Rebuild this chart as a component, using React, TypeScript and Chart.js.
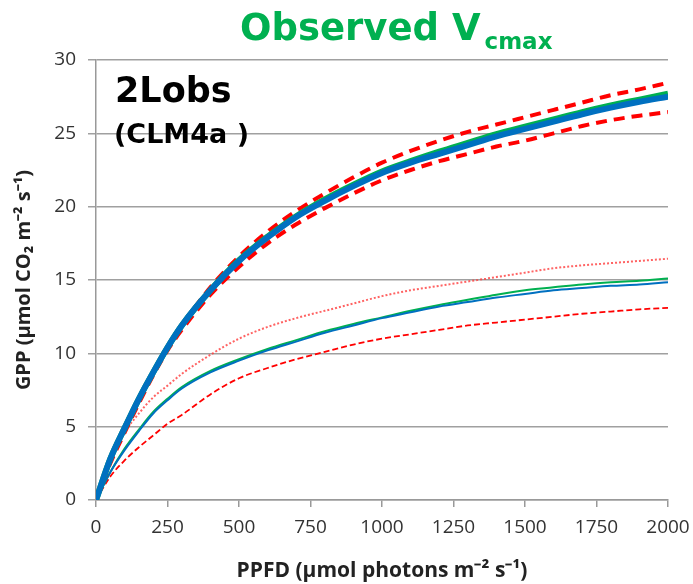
import React, { useEffect, useRef } from "react";
import { Chart, registerables } from "chart.js";

Chart.register(...registerables);

const PPFD = [0, 50, 100, 150, 200, 250, 300, 400, 500, 600, 700, 800, 900, 1000, 1100, 1200, 1300, 1400, 1500, 1600, 1700, 1800, 1900, 2000];

const sunlitBlue = [0, 2.8, 4.9, 6.9, 8.7, 10.4, 11.9, 14.3, 16.3, 17.9, 19.3, 20.4, 21.4, 22.3, 23.0, 23.6, 24.2, 24.8, 25.3, 25.8, 26.3, 26.75, 27.15, 27.5];
const sunlitGreen = [0, 2.8, 4.9, 6.9, 8.7, 10.4, 11.9, 14.3, 16.35, 17.95, 19.35, 20.5, 21.5, 22.4, 23.1, 23.75, 24.35, 24.95, 25.45, 25.95, 26.45, 26.9, 27.3, 27.7];
const sunlitRedHigh = [0, 2.6, 4.8, 6.8, 8.7, 10.4, 11.9, 14.5, 16.6, 18.3, 19.7, 20.9, 22.0, 23.0, 23.8, 24.5, 25.1, 25.6, 26.1, 26.6, 27.1, 27.6, 28.0, 28.45];
const sunlitRedLow = [0, 2.5, 4.6, 6.6, 8.5, 10.2, 11.6, 14.0, 15.9, 17.5, 18.8, 19.9, 20.9, 21.8, 22.5, 23.1, 23.6, 24.1, 24.5, 25.0, 25.5, 25.9, 26.2, 26.45];

const shadeBlue = [0, 1.9, 3.4, 4.7, 5.9, 6.8, 7.6, 8.7, 9.5, 10.2, 10.8, 11.4, 11.9, 12.4, 12.8, 13.2, 13.5, 13.8, 14.05, 14.3, 14.45, 14.6, 14.7, 14.85];
const shadeGreen = [0, 1.9, 3.5, 4.8, 6.0, 6.9, 7.7, 8.8, 9.6, 10.3, 10.9, 11.5, 12.0, 12.45, 12.9, 13.3, 13.65, 14.0, 14.3, 14.5, 14.7, 14.85, 14.95, 15.1];
const shadeRedHigh = [0, 2.6, 4.6, 5.9, 7.0, 7.8, 8.6, 9.9, 11.0, 11.8, 12.4, 12.9, 13.4, 13.9, 14.3, 14.6, 14.9, 15.2, 15.5, 15.8, 16.0, 16.15, 16.3, 16.45];
const shadeRedLow = [0, 1.6, 2.7, 3.6, 4.4, 5.2, 5.8, 7.2, 8.3, 9.0, 9.6, 10.1, 10.6, 11.0, 11.3, 11.6, 11.9, 12.1, 12.3, 12.5, 12.7, 12.85, 13.0, 13.1];

const titleMain = "Observed V";
const titleSub = "cmax";
const labelLine1 = "2Lobs";
const labelLine2 = "(CLM4a )";
const xTitle = "PPFD (µmol photons m⁻² s⁻¹)";
const yTitle = "GPP (µmol CO₂ m⁻² s⁻¹)";

const BLUE = "#0070C0";
const GREEN = "#00B050";
const RED = "#FF0000";

const toXY = (ys: number[]) => PPFD.map((x, i) => ({ x, y: ys[i] }));

const overlayPlugin = {
  id: "overlayText",
  afterDraw(chart: any) {
    const ctx = chart.ctx;
    ctx.save();
    ctx.fillStyle = GREEN;
    ctx.textBaseline = "alphabetic";
    ctx.textAlign = "left";
    ctx.font = "bold 37px 'DejaVu Sans'";
    ctx.fillText(titleMain, 240, 40);
    const w = ctx.measureText(titleMain).width;
    ctx.font = "bold 23px 'DejaVu Sans'";
    ctx.fillText(titleSub, 240 + w + 4, 49);
    ctx.fillStyle = "#000000";
    ctx.font = "bold 35px 'DejaVu Sans'";
    ctx.fillText(labelLine1, 115, 102);
    ctx.font = "bold 27px 'DejaVu Sans'";
    ctx.fillText(labelLine2, 114, 143);
    ctx.restore();
  },
};

export default function App() {
  const ref = useRef<HTMLCanvasElement | null>(null);
  useEffect(() => {
    if (!ref.current) return;
    const line = (data: number[], color: string, dash: number[] = [], width = 2) => ({
      data: toXY(data),
      borderColor: color,
      borderWidth: width,
      borderDash: dash,
      pointRadius: 0,
      fill: false,
      cubicInterpolationMode: "monotone" as const,
    });
    const chart = new Chart(ref.current, {
      type: "line",
      data: {
        datasets: [
          line(sunlitBlue, BLUE, [], 6),
          line(sunlitGreen, GREEN, [], 6),
          line(sunlitRedHigh, RED, [11, 7], 4),
          line(sunlitRedLow, RED, [11, 7], 4),
          line(shadeBlue, BLUE, [], 2),
          line(shadeGreen, GREEN, [], 2),
          line(shadeRedHigh, "rgba(255,60,60,0.8)", [2, 2], 2),
          line(shadeRedLow, RED, [6, 3], 1.8),
        ],
      },
      options: {
        responsive: false,
        animation: false,
        layout: { padding: { top: 60, right: 25, left: 0, bottom: 0 } },
        plugins: { legend: { display: false }, tooltip: { enabled: false }, title: { display: false } },
        scales: {
          x: {
            type: "linear",
            min: 0,
            max: 2000,
            ticks: {
              stepSize: 250,
              color: "#333333",
              font: { family: "'Open Sans'", size: 19 },
              padding: 9,
              maxRotation: 0,
              callback: (v: any) => String(v),
            },
            grid: { drawOnChartArea: false, drawTicks: true, tickLength: 7, color: "#999999", lineWidth: 1.5 },
            border: { color: "#999999", width: 1.5 },
            title: {
              display: true,
              text: xTitle,
              color: "#222222",
              font: { family: "'Open Sans'", size: 21, weight: "bold" },
              padding: { top: 0, bottom: 0 },
            },
            afterFit: (s: any) => {
              s.height = 84;
              s.paddingRight = 0;
              s.paddingLeft = 0;
            },
          },
          y: {
            min: 0,
            max: 30,
            ticks: { stepSize: 5, color: "#333333", font: { family: "'Open Sans'", size: 19 }, padding: 12 },
            grid: { color: "#A0A0A0", lineWidth: 1.5, tickLength: 8 },
            border: { color: "#999999", width: 1.5 },
            title: {
              display: true,
              text: yTitle,
              color: "#222222",
              font: { family: "'Open Sans'", size: 20, weight: "bold" },
              padding: { top: 12, bottom: 0 },
            },
            afterFit: (s: any) => { s.width = 96; },
          },
        },
      },
      plugins: [overlayPlugin],
    } as any);
    return () => chart.destroy();
  }, []);
  return (
    <div style={{ position: "fixed", left: 0, top: 0, width: 693, height: 584, background: "#fff" }}>
      <canvas ref={ref} width={693} height={584} />
    </div>
  );
}
